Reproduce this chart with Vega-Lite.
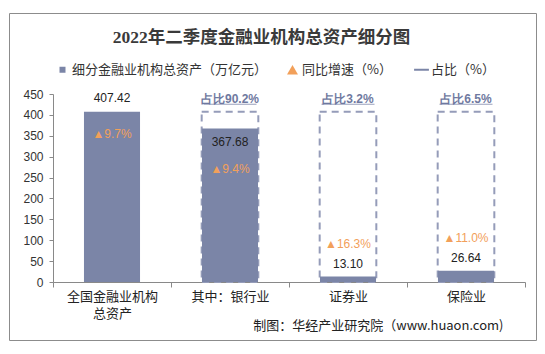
{
  "$schema": "https://vega.github.io/schema/vega-lite/v6.json",
  "width": 527,
  "height": 327,
  "autosize": {"type": "none"},
  "padding": {"left": 9, "top": 13, "right": 9, "bottom": 14},
  "background": "white",
  "config": {
    "view": {"stroke": "#8c8c8c", "strokeWidth": 1},
    "font": "Liberation Sans",
    "axisY": {"offset": -44, "labelOverlap": false, "labelFont": "Liberation Sans", "labelFontSize": 12, "labelColor": "#333", "tickSize": 4, "tickColor": "#898989", "domainColor": "#898989", "grid": false, "labelPadding": 6}
  },
  "title": {"text": "2022年二季度金融业机构总资产细分图", "font": "Liberation Serif, Noto Sans CJK SC", "fontSize": 17.5, "fontWeight": "bold", "color": "#3a3a3a", "anchor": "middle", "frame": "group", "offset": -33, "dx": -11},
  "data": {"values": [
    {"cat": "全国金融业机构总资产", "value": 407.42, "growth": "▲9.7%", "share": null, "total": 407.42},
    {"cat": "其中：银行业", "value": 367.68, "growth": "▲9.4%", "share": "占比90.2%", "total": 407.42},
    {"cat": "证券业", "value": 13.10, "growth": "▲16.3%", "share": "占比3.2%", "total": 407.42},
    {"cat": "保险业", "value": 26.64, "growth": "▲11.0%", "share": "占比6.5%", "total": 407.42}
  ]},
  "encoding": {
    "x": {"field": "cat", "type": "nominal", "sort": null,
      "scale": {"domain": ["全国金融业机构总资产", "其中：银行业", "证券业", "保险业"], "range": [44, 516], "paddingInner": 0, "paddingOuter": 0},
      "axis": {"title": "制图：华经产业研究院（www.huaon.com)", "titleX": 494, "titleY": 43, "titleAlign": "right", "titleBaseline": "middle", "titleFont": "Noto Sans CJK SC", "titleFontSize": 13, "titleFontWeight": "normal", "titleColor": "#222",
        "offset": -58, "labelAngle": 0, "labelFont": "Noto Sans CJK SC", "labelFontSize": 13, "labelColor": "#222", "labelPadding": 3, "labelLineHeight": 17, "labelBaseline": "top",
        "labelExpr": "datum.value == '全国金融业机构总资产' ? ['全国金融业机构','总资产'] : datum.value",
        "tickBand": "extent", "tickSize": 5, "tickColor": "#898989", "domainColor": "#898989", "grid": false}
    }
  },
  "layer": [
    {
      "transform": [{"filter": "datum.share != null"}],
      "mark": {"type": "bar", "width": {"band": 0.48}, "fill": "white", "fillOpacity": 0, "stroke": "#959cb9", "strokeWidth": 2, "strokeDash": [7, 5]},
      "encoding": {"y": {"field": "total", "type": "quantitative",
        "scale": {"domain": [0, 450], "range": [269, 81], "nice": false, "zero": true},
        "axis": {"title": null, "values": [0, 50, 100, 150, 200, 250, 300, 350, 400, 450]}}}
    },
    {
      "mark": {"type": "bar", "width": {"band": 0.475}},
      "encoding": {
        "y": {"field": "value", "type": "quantitative", "axis": {"title": null, "values": [0, 50, 100, 150, 200, 250, 300, 350, 400, 450]}},
        "color": {"datum": "细分金融业机构总资产（万亿元）", "type": "nominal",
          "scale": {"domain": ["细分金融业机构总资产（万亿元）", "同比增速（%）", "占比（%）"], "range": ["#7b85a7", "#f2a05a", "#7b85a7"]},
          "legend": {"orient": "none", "legendX": 47, "legendY": 50, "direction": "horizontal", "title": null, "labelFont": "Noto Sans CJK SC", "labelFontSize": 13, "labelColor": "#333", "labelLimit": 400, "columnPadding": 18, "labelOffset": 3, "padding": 0,
            "encode": {"symbols": {"update": {
              "shape": {"signal": "datum.value === '同比增速（%）' ? 'triangle-up' : datum.value === '占比（%）' ? 'stroke' : 'square'"},
              "size": {"signal": "datum.value === '同比增速（%）' ? 120 : datum.value === '占比（%）' ? 220 : 36"},
              "stroke": {"value": "#7b85a7"},
              "strokeWidth": {"signal": "datum.value === '占比（%）' ? 2 : 0"}
            }}}}
        }
      }
    },
    {
      "transform": [{"filter": "datum.cat == '全国金融业机构总资产'"}],
      "mark": {"type": "text", "dy": -14, "fontSize": 12, "color": "#222", "baseline": "middle"},
      "encoding": {"y": {"field": "value", "type": "quantitative", "axis": {"title": null, "values": [0, 50, 100, 150, 200, 250, 300, 350, 400, 450]}}, "text": {"field": "value", "type": "quantitative", "format": ".2f"}}
    },
    {
      "transform": [{"filter": "datum.cat == '其中：银行业'"}],
      "mark": {"type": "text", "dy": 14, "fontSize": 12, "color": "#222", "baseline": "middle"},
      "encoding": {"y": {"field": "value", "type": "quantitative", "axis": {"title": null, "values": [0, 50, 100, 150, 200, 250, 300, 350, 400, 450]}}, "text": {"field": "value", "type": "quantitative", "format": ".2f"}}
    },
    {
      "transform": [{"filter": "datum.cat == '证券业' || datum.cat == '保险业'"}],
      "mark": {"type": "text", "dy": -13, "fontSize": 12, "color": "#222", "baseline": "middle"},
      "encoding": {"y": {"field": "value", "type": "quantitative", "axis": {"title": null, "values": [0, 50, 100, 150, 200, 250, 300, 350, 400, 450]}}, "text": {"field": "value", "type": "quantitative", "format": ".2f"}}
    },
    {
      "transform": [{"filter": "datum.cat == '全国金融业机构总资产'"}],
      "mark": {"type": "text", "dy": 22, "fontSize": 12, "color": "#f2a05a", "baseline": "middle"},
      "encoding": {"y": {"field": "value", "type": "quantitative", "axis": {"title": null, "values": [0, 50, 100, 150, 200, 250, 300, 350, 400, 450]}}, "text": {"field": "growth"}}
    },
    {
      "transform": [{"filter": "datum.cat == '其中：银行业'"}],
      "mark": {"type": "text", "dy": 41, "fontSize": 12, "color": "#f2a05a", "baseline": "middle"},
      "encoding": {"y": {"field": "value", "type": "quantitative", "axis": {"title": null, "values": [0, 50, 100, 150, 200, 250, 300, 350, 400, 450]}}, "text": {"field": "growth"}}
    },
    {
      "transform": [{"filter": "datum.cat == '证券业' || datum.cat == '保险业'"}],
      "mark": {"type": "text", "dy": -32.5, "fontSize": 12, "color": "#f2a05a", "baseline": "middle"},
      "encoding": {"y": {"field": "value", "type": "quantitative", "axis": {"title": null, "values": [0, 50, 100, 150, 200, 250, 300, 350, 400, 450]}}, "text": {"field": "growth"}}
    },
    {
      "transform": [{"filter": "datum.share != null"}],
      "mark": {"type": "text", "dy": -13, "fontSize": 12, "fontWeight": "bold", "color": "#6f79a0", "baseline": "middle"},
      "encoding": {"y": {"field": "total", "type": "quantitative", "axis": {"title": null, "values": [0, 50, 100, 150, 200, 250, 300, 350, 400, 450]}}, "text": {"field": "share"}}
    },
    {
      "transform": [{"filter": "datum.share != null"}],
      "mark": {"type": "tick", "orient": "horizontal", "size": 53, "thickness": 1, "color": "#6f79a0", "yOffset": -7.5},
      "encoding": {"y": {"field": "total", "type": "quantitative", "axis": {"title": null, "values": [0, 50, 100, 150, 200, 250, 300, 350, 400, 450]}}}
    }
  ]
}
